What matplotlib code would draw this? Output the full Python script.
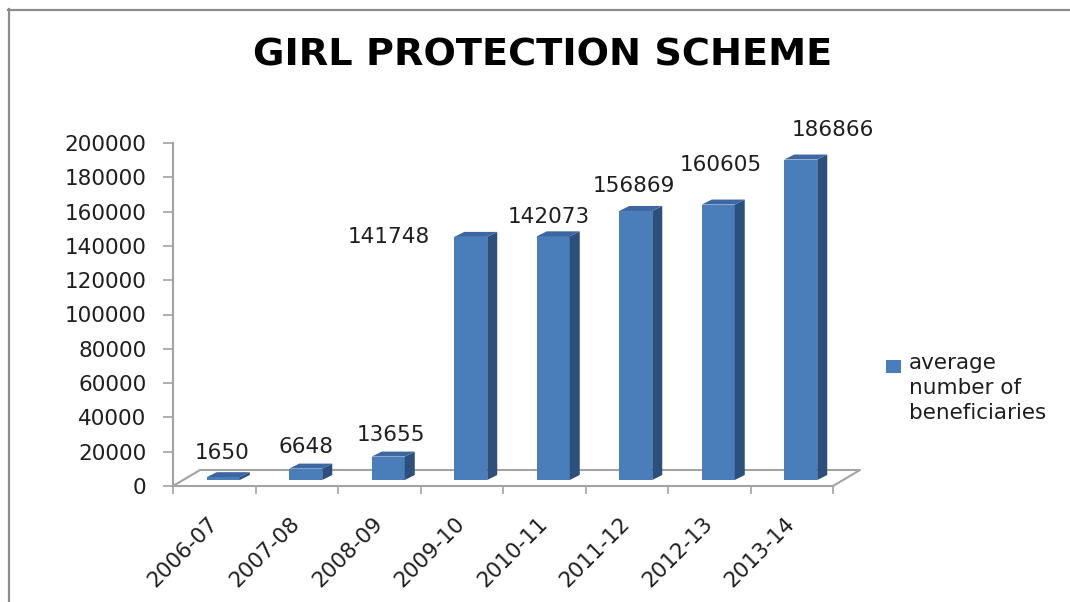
import matplotlib
matplotlib.use("Agg")
import matplotlib.pyplot as plt
from matplotlib.patches import Polygon, Rectangle
from matplotlib.lines import Line2D
from matplotlib.transforms import offset_copy

years = ["2006-07", "2007-08", "2008-09", "2009-10",
         "2010-11", "2011-12", "2012-13", "2013-14"]
beneficiaries = [1650, 6648, 13655, 141748, 142073, 156869, 160605, 186866]
y_ticks = [0, 20000, 40000, 60000, 80000, 100000, 120000,
           140000, 160000, 180000, 200000]

# pixel nudges for data labels (Excel 3D placement is a bit irregular)
label_dx = [-1, 0, 3, -82, -4, -2, 3, 32]
label_dy = [24, 22, 22, 0, 19, 25, 40, 30]

W, H = 1070, 602
fig = plt.figure(figsize=(W / 100, H / 100), dpi=100)
fig.patch.set_facecolor("white")

ax_l, ax_r, ax_t, ax_b = 173, 833, 143, 486
ax = fig.add_axes([ax_l / W, 1 - ax_b / H, (ax_r - ax_l) / W, (ax_b - ax_t) / H])
ax.set_facecolor("none")

n = len(years)
ymax = 200000
ax.set_xlim(0, n)
ax.set_ylim(0, ymax)

px_x = (ax_r - ax_l) / n          # pixels per category
px_y = (ax_b - ax_t) / ymax       # pixels per unit value

grey = "#a3a3a3"
front_c = "#4a7ebb"
side_c = "#2d4f7c"
top_c = "#3c67a3"
txt_c = "#1e1e1e"

# floor parallelogram (back edge shifted right/up)
fx, fy = 27 / px_x, 16 / px_y
ax.plot([0, fx, n + fx, n], [0, fy, fy, 0], color=grey, lw=1.5,
        clip_on=False, zorder=1)

# bars, drawn at mid depth of the floor
bar_tr = offset_copy(ax.transData, fig=fig, x=9, y=6, units="dots")
bw = 0.4
dx, dy = 10 / px_x, 5 / px_y
xs = [i + 0.5 for i in range(n)]
ax.bar(xs, beneficiaries, width=bw, color=front_c, transform=bar_tr,
       zorder=3, clip_on=False, linewidth=0)
for x, v in zip(xs, beneficiaries):
    xl, xr = x - bw / 2, x + bw / 2
    side = Polygon([(xr, 0), (xr + dx, dy), (xr + dx, v + dy), (xr, v)],
                   closed=True, facecolor=side_c, edgecolor="none",
                   transform=bar_tr, zorder=3, clip_on=False)
    top = Polygon([(xl, v), (xr, v), (xr + dx, v + dy), (xl + dx, v + dy)],
                  closed=True, facecolor=top_c, edgecolor="none",
                  transform=bar_tr, zorder=3, clip_on=False)
    ax.add_patch(side)
    ax.add_patch(top)

for x, v, ddx, ddy in zip(xs, beneficiaries, label_dx, label_dy):
    ax.annotate(str(v), xy=(x, v), xycoords=bar_tr,
                xytext=(ddx, ddy), textcoords="offset pixels",
                ha="center", va="center", fontsize=15.5, color=txt_c,
                zorder=5, annotation_clip=False)

# axes styling
for s in ["top", "right"]:
    ax.spines[s].set_visible(False)
for s in ["left", "bottom"]:
    ax.spines[s].set_color(grey)
    ax.spines[s].set_linewidth(1.5)

ax.set_yticks(y_ticks)
ax.set_yticklabels([str(t) for t in y_ticks])
ax.tick_params(axis="y", direction="out", length=7.2, width=1.2,
               color=grey, pad=12, labelsize=15.5, labelcolor=txt_c)

ax.set_xticks(range(n + 1))
ax.set_xticklabels([])
ax.tick_params(axis="x", which="major", direction="out", length=6,
               width=1.2, color=grey)
ax.set_xticks(xs, minor=True)
ax.set_xticklabels(years, minor=True)
ax.tick_params(axis="x", which="minor", length=0, pad=25, labelsize=15.5,
               labelcolor=txt_c)
for lab in ax.get_xticklabels(minor=True):
    lab.set_rotation(45)
    lab.set_ha("right")
    lab.set_va("center")
    lab.set_rotation_mode("anchor")

# title
fig.text(543 / W, 1 - 55 / H, "GIRL PROTECTION SCHEME", ha="center",
         va="center", fontsize=27.5, fontweight="bold", color="black")

# legend
fig.patches.append(Rectangle((886 / W, 1 - 373 / H), 15 / W, 13 / H,
                             transform=fig.transFigure, facecolor=front_c,
                             edgecolor="none"))
fig.text(909 / W, 1 - 353 / H, "average\nnumber of\nbeneficiaries",
         ha="left", va="top", fontsize=15.5, color=txt_c, linespacing=1.3)

# outer frame (left and top edges of the chart area)
frame_c = "#8c8c8c"
fig.add_artist(Line2D([8.5 / W, 8.5 / W], [0, 1 - 9 / H],
                      transform=fig.transFigure, color=frame_c, lw=1.6))
fig.add_artist(Line2D([8 / W, 1], [1 - 9.5 / H, 1 - 9.5 / H],
                      transform=fig.transFigure, color=frame_c, lw=1.6))

fig.savefig("out.png", dpi=100)
